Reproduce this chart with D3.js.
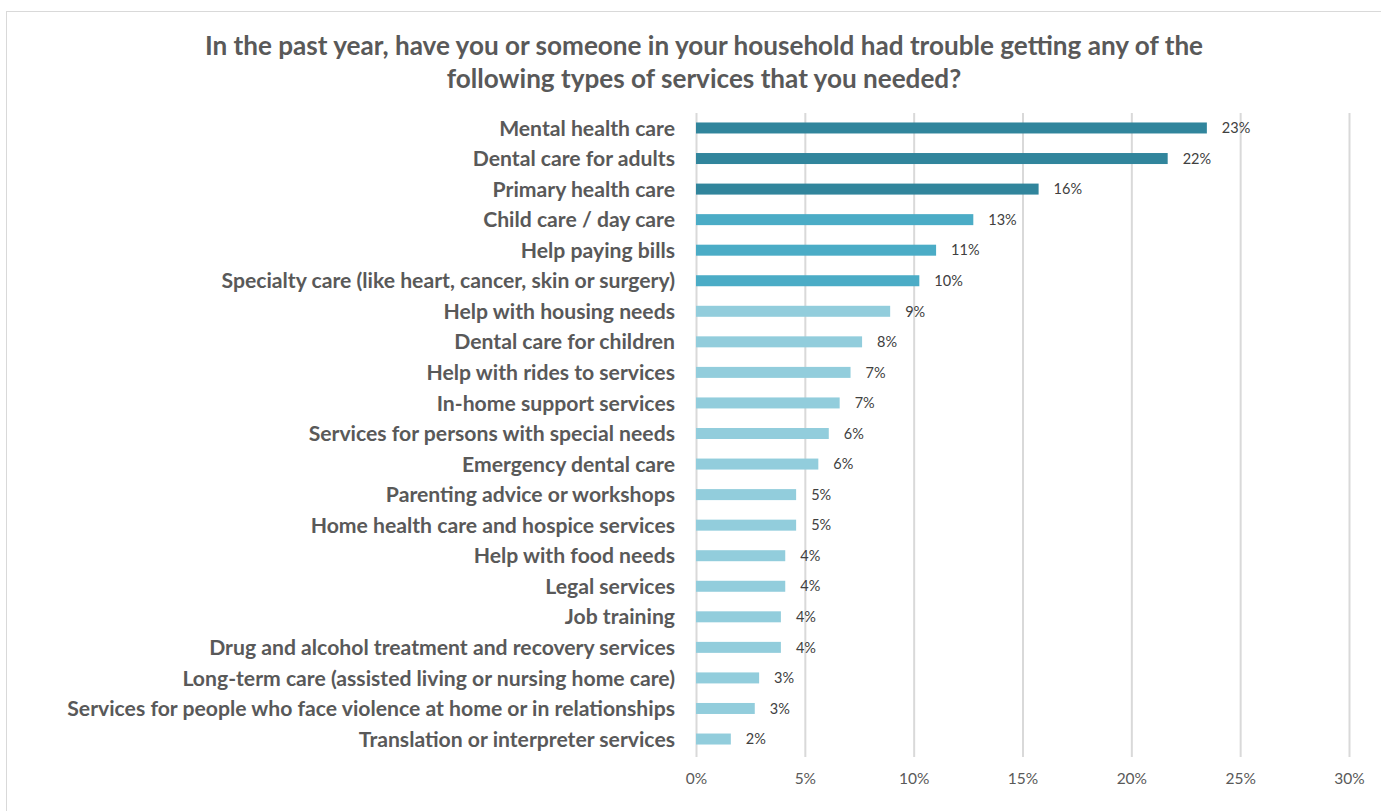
<!DOCTYPE html>
<html><head><meta charset="utf-8">
<script src="https://cdn.jsdelivr.net/npm/d3@7"></script>
<style>html,body{margin:0;padding:0;background:#fff;}svg{display:block;}</style>
</head><body>
<svg id="chart" width="1381" height="811"></svg>
<script>
const categories = [
  "Mental health care",
  "Dental care for adults",
  "Primary health care",
  "Child care / day care",
  "Help paying bills",
  "Specialty care (like heart, cancer, skin or surgery)",
  "Help with housing needs",
  "Dental care for children",
  "Help with rides to services",
  "In-home support services",
  "Services for persons with special needs",
  "Emergency dental care",
  "Parenting advice or workshops",
  "Home health care and hospice services",
  "Help with food needs",
  "Legal services",
  "Job training",
  "Drug and alcohol treatment and recovery services",
  "Long-term care (assisted living or nursing home care)",
  "Services for people who face violence at home or in relationships",
  "Translation or interpreter services"
];
const values = [0.2347, 0.2167, 0.1574, 0.1274, 0.1103, 0.1026, 0.0892, 0.0763, 0.071, 0.066, 0.061, 0.0562, 0.046, 0.046, 0.041, 0.041, 0.039, 0.039, 0.029, 0.027, 0.016];
const valueLabels = ["23%","22%","16%","13%","11%","10%","9%","8%","7%","7%","6%","6%","5%","5%","4%","4%","4%","4%","3%","3%","2%"];
const tiers = [0,0,0,1,1,1,2,2,2,2,2,2,2,2,2,2,2,2,2,2,2];
const tierColors = ["#31859c","#4bacc6","#92cddc"];
const xTicks = [0,0.05,0.10,0.15,0.20,0.25,0.30];
const titleLines = ["In the past year, have you or someone in your household had trouble getting any of the","following types of services that you needed?"];

const svg = d3.select("#chart");
const FONT = "Lato, 'Open Sans', sans-serif";

svg.append("rect").attr("x",6.5).attr("y",11.5).attr("width",1400).attr("height",900)
  .attr("fill","#fff").attr("stroke","#d9d9d9").attr("stroke-width",1);

const x = d3.scaleLinear().domain([0,0.30]).range([696,1349]);
const y = d3.scaleBand().domain(categories).range([112.7,754.3]).paddingInner(0.64).paddingOuter(0.32);

// fit helper
function fitText(sel, targetW){
  const n = sel.node(); const w = n.getComputedTextLength();
  const fs = parseFloat(sel.attr("font-size"));
  sel.attr("font-size", (fs*targetW/w).toFixed(2));
}

// gridlines
const gAxis = svg.append("g").attr("transform","translate(0,757)");
gAxis.call(d3.axisBottom(x).tickValues(xTicks).tickFormat(d3.format(".0%")).tickSize(-(757-113)).tickPadding(14));
gAxis.select(".domain").remove();
gAxis.selectAll(".tick line").attr("stroke","#d9d9d9").attr("stroke-width",2);
gAxis.selectAll(".tick text").attr("fill","#595959").attr("font-family",FONT).attr("font-size",15.5).attr("dy","0.35em").attr("y",22);

// bars
svg.append("g").selectAll("rect").data(categories).join("rect")
  .attr("x",x(0)).attr("y",d=>y(d)).attr("height",y.bandwidth())
  .attr("width",(d,i)=>x(values[i])-x(0))
  .attr("fill",(d,i)=>tierColors[tiers[i]]);

// value labels
svg.append("g").selectAll("text").data(categories).join("text")
  .attr("x",(d,i)=>x(values[i])+15).attr("y",d=>y(d)+y.bandwidth()/2).attr("dy","0.36em")
  .attr("fill","#404040").attr("font-family",FONT).attr("font-size",14.5)
  .text((d,i)=>valueLabels[i]);

// category labels
const cl = svg.append("g").selectAll("text").data(categories).join("text")
  .attr("x",675).attr("y",d=>y(d)+y.bandwidth()/2).attr("dy","0.36em")
  .attr("text-anchor","end").attr("fill","#595959").attr("font-family",FONT)
  .attr("font-weight","bold").attr("font-size",18).text(d=>d);
// scale category labels to match reference width of longest label
const longest = cl.filter(d=>d.startsWith("Services for people"));
const w0 = longest.node().getComputedTextLength();
const catFs = 18*608/w0;
cl.attr("font-size",catFs.toFixed(2));

// title
const t1 = svg.append("text").attr("x",704).attr("y",55).attr("text-anchor","middle")
  .attr("fill","#595959").attr("font-family",FONT).attr("font-weight","bold").attr("font-size",22)
  .text(titleLines[0]);
const tw = t1.node().getComputedTextLength();
const tfs = 22*998/tw;
t1.attr("font-size",tfs.toFixed(2));
svg.append("text").attr("x",704).attr("y",88).attr("text-anchor","middle")
  .attr("fill","#595959").attr("font-family",FONT).attr("font-weight","bold").attr("font-size",tfs.toFixed(2))
  .text(titleLines[1]);
</script>
</body></html>
